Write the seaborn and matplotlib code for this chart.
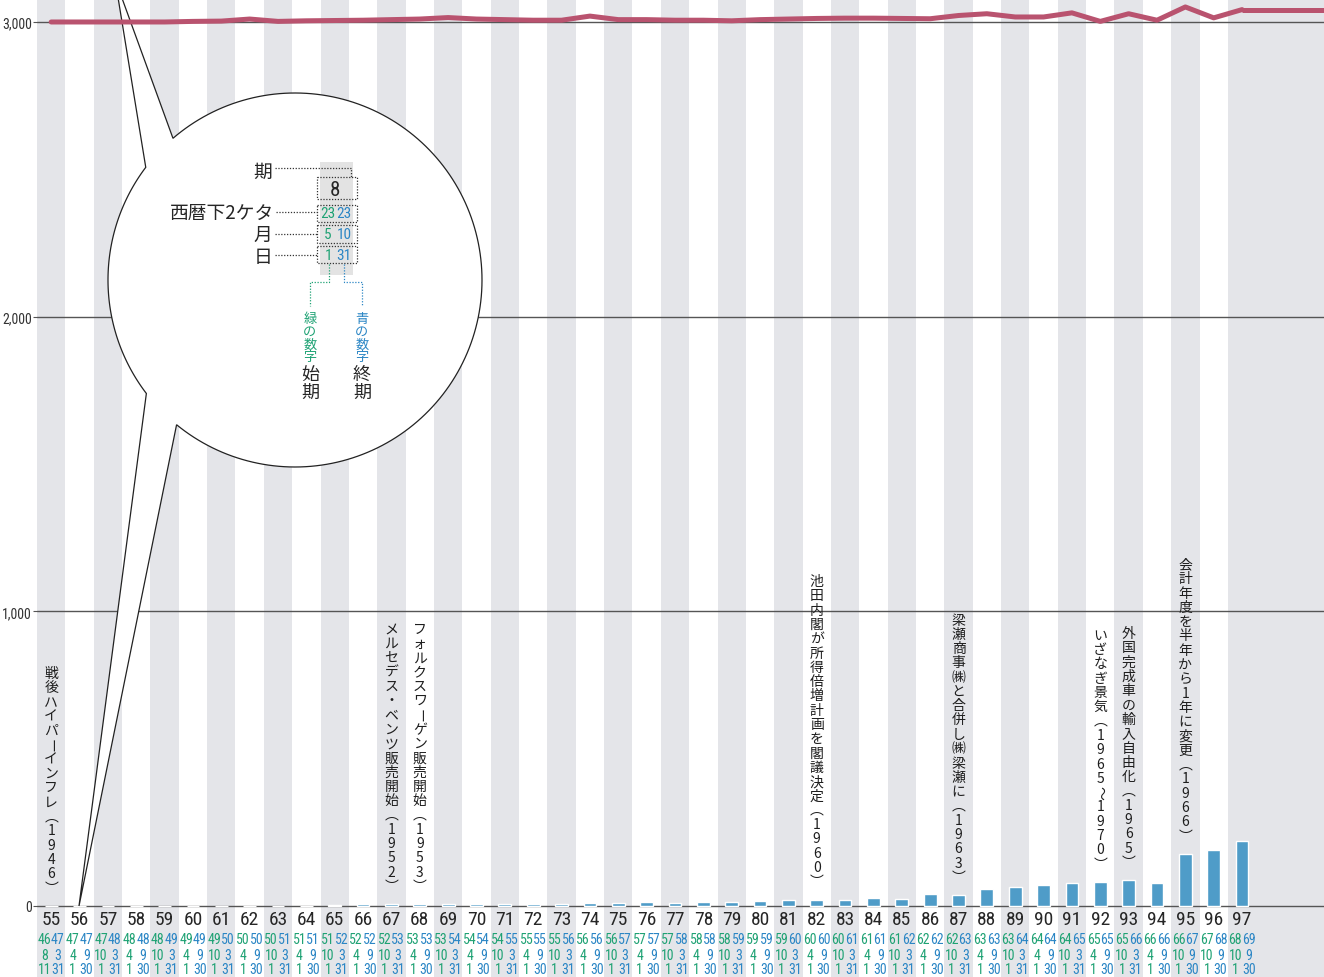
import numpy as np
import pandas as pd
import matplotlib
matplotlib.use("Agg")
import matplotlib.pyplot as plt
import seaborn as sns
from matplotlib import transforms
from matplotlib import font_manager as fm
from matplotlib.path import Path
from matplotlib.patches import PathPatch, Rectangle

# ---- data -------------------------------------------------------------
periods = list(range(55, 98))
sales = [1, 1, 1, 1, 1, 1, 1, 1, 1, 1,
         3, 6, 6, 6, 6, 6, 6, 6, 6, 9,
         9, 12, 9, 12, 15, 18, 22, 22, 22, 26,
         23, 40, 37, 57, 65, 71, 78, 82, 88, 78,
         177, 190, 221]
trend = [3000, 3000, 3000, 3000, 3000, 3002, 3003, 3010, 3002, 3004,
         3005, 3006, 3008, 3010, 3015, 3010, 3008, 3006, 3006, 3020,
         3008, 3008, 3006, 3006, 3004, 3008, 3010, 3012, 3013, 3013,
         3012, 3011, 3022, 3028, 3017, 3017, 3031, 3002, 3028, 3006,
         3051, 3014, 3042]
start_yy = [46, 47, 47, 48, 48, 49, 49, 50, 50, 51, 51, 52, 52, 53, 53, 54, 54, 55, 55, 56, 56,
            57, 57, 58, 58, 59, 59, 60, 60, 61, 61, 62, 62, 63, 63, 64, 64, 65, 65, 66, 66, 67, 68]
end_yy = [47, 47, 48, 48, 49, 49, 50, 50, 51, 51, 52, 52, 53, 53, 54, 54, 55, 55, 56, 56, 57,
          57, 58, 58, 59, 59, 60, 60, 61, 61, 62, 62, 63, 63, 64, 64, 65, 65, 66, 66, 67, 68, 69]
start_mm = [8, 4, 10, 4, 10, 4, 10, 4, 10, 4, 10, 4, 10, 4, 10, 4, 10, 4, 10, 4, 10,
            4, 10, 4, 10, 4, 10, 4, 10, 4, 10, 4, 10, 4, 10, 4, 10, 4, 10, 4, 10, 10, 10]
end_mm = [3, 9, 3, 9, 3, 9, 3, 9, 3, 9, 3, 9, 3, 9, 3, 9, 3, 9, 3, 9, 3,
          9, 3, 9, 3, 9, 3, 9, 3, 9, 3, 9, 3, 9, 3, 9, 3, 9, 3, 9, 9, 9, 9]
start_dd = [11, 1, 1, 1, 1, 1, 1, 1, 1, 1, 1, 1, 1, 1, 1, 1, 1, 1, 1, 1, 1,
            1, 1, 1, 1, 1, 1, 1, 1, 1, 1, 1, 1, 1, 1, 1, 1, 1, 1, 1, 1, 1, 1]
end_dd = [31, 30, 31, 30, 31, 30, 31, 30, 31, 30, 31, 30, 31, 30, 31, 30, 31, 30, 31, 30, 31,
          30, 31, 30, 31, 30, 31, 30, 31, 30, 31, 30, 31, 30, 31, 30, 31, 30, 31, 30, 30, 30, 30]
y_ticks = [0, 1000, 2000, 3000]
y_ticklabels = ["0", "1,000", "2,000", "3,000"]
note_periods = [55, 67, 68, 82, 87, 92, 93, 95]
note_texts = ["戦後ハイパーインフレ（1946）",
              "メルセデス・ベンツ販売開始（1952）",
              "フォルクスワーゲン販売開始（1953）",
              "池田内閣が所得倍増計画を閣議決定（1960）",
              "梁瀬商事㈱と合併し㈱梁瀬に（1963）",
              "いざなぎ景気（1965〜1970）",
              "外国完成車の輸入自由化（1965）",
              "会計年度を半年から1年に変更（1966）"]

# ---- style ------------------------------------------------------------
sns.set_theme(style="white")
CJK = ["Noto Sans CJK JP", "DejaVu Sans"]
plt.rcParams["font.family"] = CJK


def pick_font(names):
    for n in names:
        try:
            fm.findfont(fm.FontProperties(family=n), fallback_to_default=False)
            return n
        except Exception:
            continue
    return "DejaVu Sans"


NARROW = pick_font(["Liberation Sans Narrow", "Roboto Condensed", "Liberation Sans"])

BAR = "#4f9cc8"
PINK = "#b9536f"
STRIPE = "#e4e5e9"
GREEN = "#1fa274"
BLUE = "#2b86c5"
INK = "#262626"

W, H, DPI = 1324, 978, 100
fig = plt.figure(figsize=(W / DPI, H / DPI), dpi=DPI)
ax = fig.add_axes([37 / W, 0, 1 - 37 / W, 1])
ax.set_facecolor("white")

# pixel coordinates, origin top-left
px = transforms.Affine2D().scale(1 / W, -1 / H).translate(0, 1) + fig.transFigure
xpx = transforms.blended_transform_factory(ax.transData, px)

df = pd.DataFrame({"period": [str(p) for p in periods], "sales": sales})
sns.barplot(data=df, x="period", y="sales", color=BAR, saturation=1,
            width=0.45, errorbar=None, ax=ax, zorder=3)

n = len(periods)
x_right = 44.89
ax.set_xlim(-0.5, x_right)
ax.set_ylim(-241, 3078)

# alternating background bands, plus the band after the last period
for i, p in enumerate(periods):
    if p % 2 == 1:
        ax.axvspan(i - 0.5, i + 0.5, color=STRIPE, lw=0, zorder=0)
ax.axvspan(n - 0.5, x_right, color=STRIPE, lw=0, zorder=0)

for v in y_ticks:
    ax.axhline(v, color="#555555", lw=1.0, zorder=1)

ax.set_yticks(y_ticks)
ax.set_yticklabels(y_ticklabels, fontfamily=NARROW, fontsize=10, color="#333333")
ax.tick_params(axis="y", length=3, width=0.8, color="#555555", pad=0.5, left=True)
ax.set_xticks([])
ax.set_xlabel("")
ax.set_ylabel("")
for s in ax.spines.values():
    s.set_visible(False)

# trend line along the top
sns.lineplot(x=np.arange(n), y=trend, color=PINK, lw=3.6, ax=ax, zorder=8)
ax.plot([n - 1, x_right], [trend[-1], trend[-1]], color=PINK, lw=3.6, zorder=8,
        solid_capstyle="butt")

# period labels and start / end dates under each bar
for i, p in enumerate(periods):
    ax.text(i, 920, str(p), transform=xpx, ha="center", va="center",
            fontfamily=NARROW, fontsize=14, color=INK, zorder=6)
    rows = [(940, start_yy[i], end_yy[i]), (956, start_mm[i], end_mm[i]),
            (970, start_dd[i], end_dd[i])]
    for yy, a, b in rows:
        ax.text(i - 0.24, yy, str(a), transform=xpx, ha="center", va="center",
                fontfamily=NARROW, fontsize=10, color=GREEN, zorder=6)
        ax.text(i + 0.24, yy, str(b), transform=xpx, ha="center", va="center",
                fontfamily=NARROW, fontsize=10, color=BLUE, zorder=6)

# vertical (tategaki) event notes above the bars
VERTICAL_FORMS = {"（": "︵", "）": "︶"}
ROTATED = set("ー〜")
PITCH = 14.3
GAP = 11
for p, txt in zip(note_periods, note_texts):
    i = periods.index(p)
    m = len(txt)
    for k, ch in enumerate(txt):
        off = GAP + PITCH * (m - 1 - k + 0.5)
        glyph = VERTICAL_FORMS.get(ch, ch)
        ax.annotate(glyph, xy=(i, sales[i]), xycoords="data",
                    xytext=(0, off * 72 / DPI), textcoords="offset points",
                    ha="center", va="center",
                    rotation=-90 if ch in ROTATED else 0,
                    fontsize=10, color="#1e1e1e", family=CJK, zorder=6,
                    annotation_clip=False)

# ---- explanatory callout bubble --------------------------------------
cx, cy, r = 295, 281, 187


def ang(pt):
    return np.degrees(np.arctan2(pt[1] - cy, pt[0] - cx))


def arc(a0, a1, num=160):
    t = np.radians(np.linspace(a0, a1, num))
    return np.column_stack([cx + r * np.cos(t), cy + r * np.sin(t)])


top_a, top_b, top_tip = (144, 167), (171, 137), (115, -20)
bot_a, bot_b, bot_tip = (147, 394), (178, 424), (79, 907)
a_tb = ang(top_b) % 360
a_bb = ang(bot_b) % 360 + 360
a_ba = ang(bot_a) % 360
a_ta = ang(top_a) % 360
verts = np.vstack([arc(a_tb, a_bb), [bot_tip], arc(a_ba, a_ta), [top_tip], arc(a_tb, a_tb, 1)])
codes = [Path.MOVETO] + [Path.LINETO] * (len(verts) - 2) + [Path.CLOSEPOLY]
bubble = PathPatch(Path(verts, codes), facecolor="white", edgecolor="#222222",
                   lw=0.9, transform=px, clip_on=False, zorder=4)
ax.add_patch(bubble)

Z = 5
ax.add_patch(Rectangle((320, 163), 33, 113, facecolor="#e3e3e3", edgecolor="none",
                       transform=px, clip_on=False, zorder=Z))
dot = dict(color="#333333", lw=0.9, linestyle=(0, (1, 1.3)), transform=px,
           clip_on=False, zorder=Z + 1)
for (x0, y0, x1, y1) in [(317, 178, 357, 200), (317, 206, 357, 223),
                         (317, 226, 357, 244), (317, 247, 357, 264)]:
    ax.plot([x0, x1, x1, x0, x0], [y0, y0, y1, y1, y0], **dot)
ax.plot([275, 351, 351], [169, 169, 178], **dot)
ax.plot([276, 317], [213, 213], **dot)
ax.plot([275, 317], [235, 235], **dot)
ax.plot([275, 317], [256, 256], **dot)
ax.plot([329, 329, 310, 310], [265, 283, 283, 307],
        **{**dot, "color": GREEN})
ax.plot([344, 344, 362, 362], [265, 283, 283, 307],
        **{**dot, "color": BLUE})

lab = dict(transform=px, fontsize=13.5, color=INK, family=CJK, zorder=Z + 2,
           va="center", clip_on=False)
ax.text(263, 172, "期", ha="center", **lab)
ax.text(274, 213, "西暦下2ケタ", ha="right", **lab)
ax.text(263, 235, "月", ha="center", **lab)
ax.text(263, 257, "日", ha="center", **lab)

num = dict(transform=px, fontfamily=NARROW, va="center", ha="center",
           zorder=Z + 2, clip_on=False)
ax.text(335, 190, "8", fontsize=15, color=INK, **num)
for yy, a, b in [(214, "23", "23"), (235, "5", "10"), (256, "1", "31")]:
    ax.text(328, yy, a, fontsize=11, color=GREEN, **num)
    ax.text(344, yy, b, fontsize=11, color=BLUE, **num)

for xx, small, col, big in [(310, "緑の数字", GREEN, "始期"), (362, "青の数字", BLUE, "終期")]:
    for k, ch in enumerate(small):
        ax.text(xx, 319 + 13 * k, ch, transform=px, ha="center", va="center",
                fontsize=9.5, color=col, family=CJK, zorder=Z + 2, clip_on=False)
    for k, ch in enumerate(big):
        ax.text(xx, 375 + 18 * k, ch, transform=px, ha="center", va="center",
                fontsize=13, color=INK, family=CJK, zorder=Z + 2, clip_on=False)

fig.savefig("out.png", dpi=DPI)
